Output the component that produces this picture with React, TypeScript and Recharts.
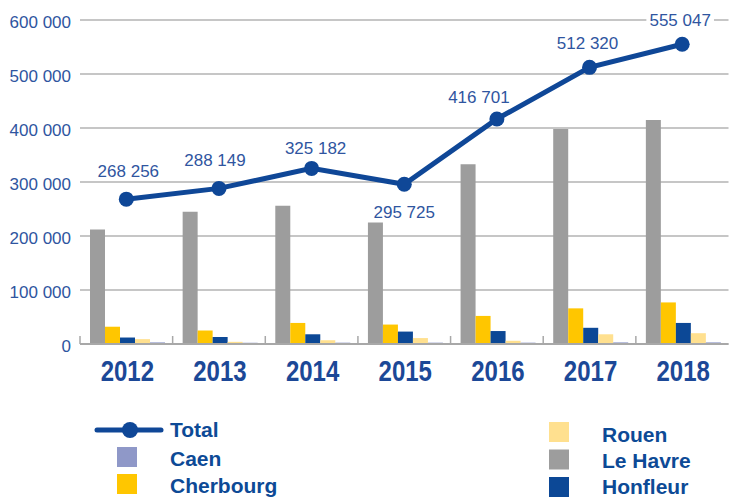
import React from 'react';
import {
  ComposedChart,
  Bar,
  Line,
  XAxis,
  YAxis,
  CartesianGrid,
  LabelList,
} from 'recharts';

const YEARS = ['2012', '2013', '2014', '2015', '2016', '2017', '2018'];
const TOTAL = [268256, 288149, 325182, 295725, 416701, 512320, 555047];
const LE_HAVRE = [212000, 245000, 256000, 225000, 333000, 398000, 415000];
const CHERBOURG = [32000, 25000, 39000, 36000, 52000, 66000, 77000];
const HONFLEUR = [12000, 13000, 18000, 23000, 24000, 30000, 39000];
const ROUEN = [9000, 4000, 7000, 11000, 6000, 18000, 20000];
const CAEN = [3000, 2500, 2500, 2500, 2500, 3000, 3000];
const Y_TICKS = [0, 100000, 200000, 300000, 400000, 500000, 600000];

// hand placement of the total labels (dx, dy from the point)
const LABEL_DX = [2, -4, 4, 0, -18, -2, -2];
const LABEL_DY = [-22, -22, -14, 34, -16, -18, -18];

const BLUE = '#0f4797';
const TEXT_BLUE = '#2f55a0';
const FONT = '"Liberation Sans", Arial, sans-serif';

const data = YEARS.map((year, i) => ({
  year,
  total: TOTAL[i],
  leHavre: LE_HAVRE[i],
  cherbourg: CHERBOURG[i],
  honfleur: HONFLEUR[i],
  rouen: ROUEN[i],
  caen: CAEN[i],
}));

const fmt = (v: number) => String(v).replace(/\B(?=(\d{3})+(?!\d))/g, ' ');

const YTick = ({ x, y, payload }: any) => (
  <text x={x} y={y + 8} textAnchor="end" fontSize={17} fontFamily={FONT} fill={TEXT_BLUE}>
    {fmt(payload.value)}
  </text>
);

const XTick = ({ x, y, payload }: any) => {
  const half = payload.offset || 46.3;
  return (
    <g>
      <line x1={x - half} y1={y} x2={x - half} y2={y - 8} stroke="#a8a8a8" strokeWidth={1.5} />
      <text
        transform={`translate(${x + 1}, ${y + 37}) scale(0.8, 1)`}
        textAnchor="middle"
        fontSize={30}
        fontWeight="bold"
        fontFamily={FONT}
        fill="#1c4897"
      >
        {payload.value}
      </text>
    </g>
  );
};

const TotalLabel = ({ x, y, value, index }: any) => {
  const tx = x + LABEL_DX[index];
  const ty = y + LABEL_DY[index];
  const txt = fmt(value);
  const w = txt.length * 8.8;
  return (
    <g>
      <rect x={tx - w / 2 - 3} y={ty - 14} width={w + 6} height={17} fill="#fff" />
      <text x={tx} y={ty} textAnchor="middle" fontSize={17} fontFamily={FONT} fill={TEXT_BLUE}>
        {txt}
      </text>
    </g>
  );
};

const legendLeft = [
  { name: 'Caen', color: '#8f98c8' },
  { name: 'Cherbourg', color: '#ffc600' },
];
const legendRight = [
  { name: 'Rouen', color: '#ffe08f' },
  { name: 'Le Havre', color: '#9d9d9d' },
  { name: 'Honfleur', color: '#0c4896' },
];

const legendText = { fontSize: 21, fontWeight: 'bold' as const, fontFamily: FONT, fill: '#0d4a96' };

function LegendOverlay() {
  return (
    <svg width={729} height={497} style={{ position: 'absolute', left: 0, top: 0, pointerEvents: 'none' }}>
      <line x1={97} y1={430} x2={161} y2={430} stroke={BLUE} strokeWidth={5} strokeLinecap="round" />
      <circle cx={130} cy={430} r={8} fill={BLUE} />
      <text x={170} y={437} {...legendText}>Total</text>
      {legendLeft.map((item, i) => (
        <g key={item.name}>
          <rect x={117} y={447 + i * 27} width={20} height={20} fill={item.color} />
          <text x={170} y={466 + i * 27} {...legendText}>{item.name}</text>
        </g>
      ))}
      {legendRight.map((item, i) => (
        <g key={item.name}>
          <rect x={549} y={422 + i * 27.5} width={20} height={20} fill={item.color} />
          <text x={602} y={442 + i * 26} {...legendText}>{item.name}</text>
        </g>
      ))}
    </svg>
  );
}

export default function App() {
  return (
    <div style={{ position: 'absolute', left: 0, top: 0, width: 729, height: 497, background: '#fff' }}>
      <ComposedChart
        width={729}
        height={497}
        data={data}
        margin={{ top: 20, right: 0.5, left: 0, bottom: 113 }}
        barCategoryGap={10}
        barGap={0}
      >
        <CartesianGrid vertical={false} stroke="#b3b3b3" strokeWidth={1.5} />
        <XAxis
          dataKey="year"
          height={40}
          tickSize={0}
          tickMargin={0}
          axisLine={{ stroke: '#a8a8a8', strokeWidth: 2 }}
          tick={<XTick />}
          interval={0}
        />
        <YAxis
          width={80}
          domain={[0, 600000]}
          ticks={Y_TICKS}
          tickSize={0}
          tickMargin={9}
          axisLine={false}
          tick={<YTick />}
          interval={0}
        />
        <Bar dataKey="leHavre" fill="#9d9d9d" isAnimationActive={false} />
        <Bar dataKey="cherbourg" fill="#ffc600" isAnimationActive={false} />
        <Bar dataKey="honfleur" fill="#0c4896" isAnimationActive={false} />
        <Bar dataKey="rouen" fill="#ffe08f" isAnimationActive={false} />
        <Bar dataKey="caen" fill="#8f98c8" isAnimationActive={false} />
        <Line
          dataKey="total"
          stroke={BLUE}
          strokeWidth={5}
          dot={{ r: 7.5, fill: BLUE, stroke: 'none' }}
          activeDot={false}
          isAnimationActive={false}
        >
          <LabelList dataKey="total" content={<TotalLabel />} />
        </Line>
      </ComposedChart>
      <LegendOverlay />
    </div>
  );
}
